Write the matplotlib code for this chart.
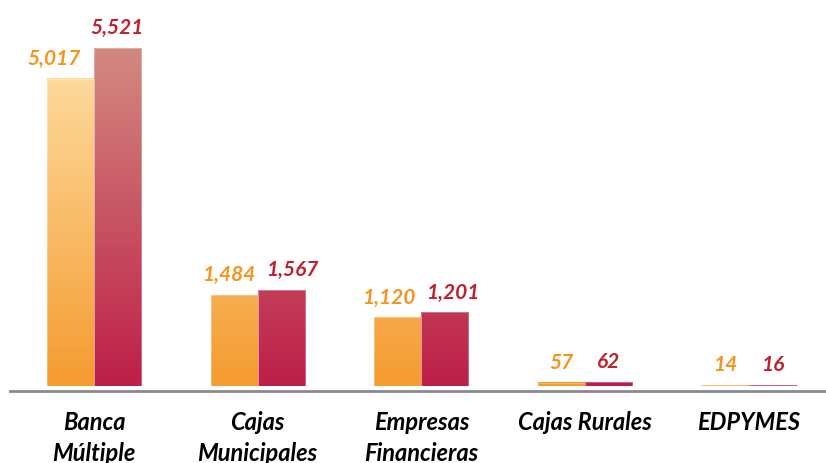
import matplotlib.pyplot as plt
import numpy as np
from matplotlib.colors import LinearSegmentedColormap, Normalize

categories = ['Banca\nMúltiple', 'Cajas\nMunicipales', 'Empresas\nFinancieras', 'Cajas Rurales', 'EDPYMES']
serie_1 = [5017, 1484, 1120, 57, 14]
serie_2 = [5521, 1567, 1201, 62, 16]
labels_1 = ['5,017', '1,484', '1,120', '57', '14']
labels_2 = ['5,521', '1,567', '1,201', '62', '16']

font = 'Lato'
orange_txt = '#f7941d'
red_txt = '#c0202e'

cmap_orange = LinearSegmentedColormap.from_list('o', ['#f59b30', '#fee0a6'])
cmap_red = LinearSegmentedColormap.from_list('r', ['#bd1f48', '#d3897f'])
norm = Normalize(0, max(serie_2))

fig = plt.figure(figsize=(8.26, 4.63), dpi=100)
ax = fig.add_axes([10 / 826, (463 - 386) / 463, 816 / 826, 376 / 463])

x = np.arange(len(categories))
w = 0.287
ymax = 376 / 338 * max(serie_2)
px = ymax / 376  # un pixel en unites de donnees


def gradient_bar(xc, h, cmap):
    """barre avec degrade vertical (le degrade suit l'axe y)"""
    vals = np.linspace(0, h, 200).reshape(-1, 1)
    ax.imshow(vals, cmap=cmap, norm=norm, origin='lower', aspect='auto',
              extent=(xc - w / 2, xc + w / 2, 0, h), interpolation='bilinear', zorder=2)
    ax.bar(xc, h, w, facecolor='none', edgecolor=(1, 1, 1, 0.35), linewidth=0.6, zorder=3)


# decalages des etiquettes (pixels) comme dans l'original
dx1 = [-16, -5, -9, 0, 0]
dx2 = [0, 11, 8, 0, 0]

for i in range(len(categories)):
    gradient_bar(x[i] - w / 2, serie_1[i], cmap_orange)
    gradient_bar(x[i] + w / 2, serie_2[i], cmap_red)
    ax.annotate(labels_1[i], (x[i] - w / 2, serie_1[i]), xytext=(dx1[i] * 0.72, 7),
                textcoords='offset points', ha='center', va='bottom', fontsize=15,
                fontweight='bold', fontstyle='italic', color=orange_txt, family=font)
    ax.annotate(labels_2[i], (x[i] + w / 2, serie_2[i]), xytext=(dx2[i] * 0.72, 7),
                textcoords='offset points', ha='center', va='bottom', fontsize=15,
                fontweight='bold', fontstyle='italic', color=red_txt, family=font)
    ax.annotate(categories[i], (x[i], 0), xytext=(0, -18), textcoords='offset points',
                ha='center', va='top', fontsize=17, fontweight='bold', fontstyle='italic',
                color='black', family=font, linespacing=1.42, annotation_clip=False)

# ligne de base un peu sous les barres
ax.axhline(-5 * px, color='#8a8a8e', linewidth=2.0, zorder=4, clip_on=False)
ax.set_xlim(-0.512, 4.47)
ax.set_ylim(0, ymax)
ax.axis('off')

fig.savefig('out.png', dpi=100)
